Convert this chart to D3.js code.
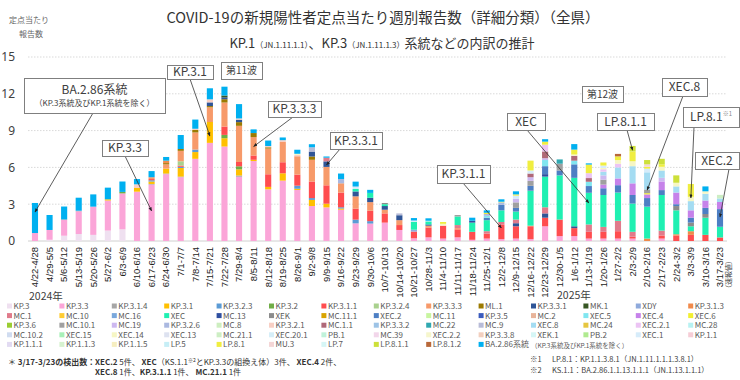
<!DOCTYPE html>
<html><head><meta charset="utf-8">
<script src="https://cdn.jsdelivr.net/npm/d3@7"></script>
<style>
body{margin:0;background:#fff;}
svg{display:block;font-family:"Noto Sans CJK JP","Noto Sans",sans-serif;}
</style>
</head><body>
<svg id="c" width="740" height="380"></svg>
<script>
const weeks = ["4/22-4/28","4/29-5/5","5/6-5/12","5/13-5/19","5/20-5/26","5/27-6/2","6/3-6/9","6/10-6/16","6/17-6/23","6/24-6/30","7/1-7/7","7/8-7/14",
"7/15-7/21","7/22-7/28","7/29-8/4","8/5-8/11","8/12-8/18","8/19-8/25","8/26-9/1","9/2-9/8","9/9-9/15","9/16-9/22","9/23-9/29","9/30-10/6",
"10/7-10/13","10/14-10/20","10/21-10/27","10/28-11/3","11/4-11/10","11/11-11/17","11/18-11/24","11/25-12/1","12/2-12/8","12/9-12/15","12/16-12/22","12/23-12/29",
"12/30-1/5","1/6-1/12","1/13-1/19","1/20-1/26","1/27-2/2","2/3-2/9","2/10-2/16","2/17-2/23","2/24-3/2","3/3-3/9","3/10-3/16","3/17-3/23"];
const yTicks = [0,3,6,9,12,15];
const seriesNames = ["KP.3","KP.3.3","KP.3.1.4","KP.3.1","KP.3.2.3","KP.3.2","KP.3.1.1","KP.3.2.4","KP.3.3.3","ML.1","KP.3.3.1","MK.1","XDY","KP.3.1.3",
"MC.1","MC.10","MC.16","XEC","MC.13","XEK","MC.11.1","XEC.2","MC.11","KP.3.5","MC.2","XEC.5","XEC.4","XEC.6",
"KP.3.6","MC.10.1","MC.19","KP.3.2.6","MC.8","KP.3.2.1","MC.1.1","KP.3.3.2","MC.22","MC.9","XEC.8","MC.24","XEC.2.1","MC.28",
"MC.10.2","XEC.15","XEC.14","XEC.13","MC.21.1","XEC.20.1","PB.1","MC.39","XEC.2.2","KP.3.3.8","XEK.1","PB.2","XEC.1","KP.1.1",
"KP.1.1.1","KP.1.1.3","KP.1.1.5","LP.5","LP.8.1","MU.3","LP.7","LP.8.1.1","LP.8.1.2","BA.2.86系統"];

const KP_3 = [0,0.1,0.43,0.57,0.5,0.85,0.95,0,0,0,0,0, 0,0,0,0,0,0,0,0,0,0,0,0, 0,0,0,0,0,0,0,0,0,0,0,0, 0,0,0,0,0,0,0,0,0,0,0,0];
const KP_3_3 = [0.65,0.8,1.28,1.85,2.3,2.45,2.93,4.02,4.6,5.45,5.2,6.7, 8.0,7.7,5.24,6.52,4.21,4.92,4.16,2.85,2.74,2.55,1.44,1.42, 1.5,0.9,0.22,0.3,0.2,0.3,0.1,0.2,0.15,0.2,0.15,1.2, 0.4,0.4,0.2,0.2,0.2,0.2,0,0.2,0,0,0,0];
const KP_3_1_4 = [0,0,0.05,0.05,0,0,0,0,0.05,0.05,0.05,0, 0,0,0.1,0,0,0,0,0,0,0,0,0, 0,0,0,0,0,0,0,0,0,0,0,0, 0,0,0,0,0,0,0,0,0,0,0,0];
const KP_3_1 = [0,0,0,0,0,0.1,0,0.3,0.2,0.4,0.7,0.55, 1.7,0.68,0.5,0.1,0.2,0.6,0.1,0.5,0.3,0.1,0,0, 0,0,0,0,0,0,0,0,0,0,0,0, 0,0,0,0,0,0,0,0,0,0,0,0];
const KP_3_2_3 = [0,0,0,0,0,0,0,0,0.1,0,0.1,0.2, 0,0,0,0,0,0,0.25,0.15,0,0.1,0.3,0.2, 0,0,0,0,0,0,0,0,0,0,0,0, 0,0,0,0,0,0,0,0,0,0,0,0];
const KP_3_2 = [0,0,0,0,0,0,0.12,0,0,0,0,0, 0,0.27,0.25,0,0,0,0,0,0,0,0,0, 0,0,0,0,0,0,0,0,0,0,0,0, 0,0,0,0,0,0,0,0,0,0,0,0];
const KP_3_1_1 = [0,0,0,0,0,0,0,0,0.1,0,0.1,0, 0,0.68,0.35,0.35,1.03,0.9,0.9,1.35,1.5,1.2,0.9,0.85, 0.75,0.4,0.55,0.8,1.05,0.65,0.65,0.4,1.2,1.0,1.05,0.7, 1.35,0.65,0.55,0.55,0.6,0.15,0,0.25,0.45,0.5,0.5,0.29];
const KP_3_2_4 = [0,0,0,0,0,0,0,0,0,0,0.35,0, 0,0,0,0,0,0,0,0,0,0,0,0, 0,0,0,0,0,0,0,0,0,0,0,0, 0,0,0,0,0,0,0,0,0,0,0,0];
const KP_3_3_3 = [0,0,0,0,0,0,0,0,0.15,0.35,0.85,1.4, 1.2,1.96,2.95,1.5,2.1,1.65,1.5,1.77,1.5,0.7,1.0,0.7, 0.3,0.4,0,0.15,0,0.1,0,0,0,0,0,0, 0,0,0,0,0,0,0,0,0,0,0,0];
const ML_1 = [0,0,0,0,0,0,0,0,0,0.1,0.15,0.2, 0.1,0.27,0.3,0.33,0.1,0,0,0.27,0,0,0,0, 0,0,0,0,0,0,0,0,0,0,0,0, 0,0,0,0,0,0,0,0,0,0,0,0];
const KP_3_3_1 = [0,0,0,0,0,0,0,0,0,0,0,0, 0.3,0.15,0.2,0,0,0,0,0.4,0.45,0,0.4,0.35, 0.3,0.4,0,0.1,0,0,0,0,0,0.25,0,0.35, 0,0.15,0,0,0,0,0,0,0,0,0,0];
const MK_1 = [0,0,0,0,0,0,0,0,0,0,0,0, 0,0.15,0,0,0,0,0,0,0,0,0,0, 0,0,0,0,0,0,0,0,0,0,0,0, 0,0,0,0,0,0,0,0,0,0,0,0];
const XDY = [0,0,0,0,0,0,0,0,0,0,0,0, 0,0,0,0,0,0,0,0,0,0,0,0, 0,0,0.15,0,0,0,0,0,0,0,0,0, 0,0,0,0,0,0,0,0,0,0,0,0];
const KP_3_1_3 = [0,0,0,0,0,0,0,0,0,0.2,0,0, 0,0,0,0,0,0,0,0,0,0.05,0,0, 0,0,0,0,0,0,0,0,0,0,0.05,0, 0,0,0,0,0,0,0.2,0,0.1,0.3,0,0];
const MC_1 = [0,0,0,0,0,0,0,0,0,0,0,0, 0,0,0,0,0,0,0,0,0.3,0,0,0, 0,0,0,0,0,0.25,0,0.2,0.2,0.3,0,0.5, 0,0,0.6,0.4,0.85,0.4,0,0.4,0,0,0,0];
const XEC = [0,0,0,0,0,0,0,0,0,0,0,0, 0,0,0,0,0,0,0,0,0,0,0.2,0.4, 0.15,0,0.65,0.25,0,0.7,0.75,0.9,0.95,0.65,2.85,2.5, 3.6,3.95,2.58,2.6,2.3,2.3,2.6,2.9,1.95,0.4,1.4,0.87];
const MC_13 = [0,0,0,0,0,0,0,0,0,0,0,0, 0,0,0,0,0,0,0,0,0,0,0,0, 0,0,0,0,0,0,0.15,0,0,0,0,0.2, 0,0,0,0,0,0,0,0,0,0,0,0];
const XEK = [0,0,0,0,0,0,0,0,0,0,0,0, 0,0,0,0,0,0,0,0,0,0,0,0, 0.1,0,0,0,0,0,0,0,0,0,0,0, 0,0,0,0,0,0,0,0,0.35,0.3,0.3,0];
const XEC_2 = [0,0,0,0,0,0,0,0,0,0,0,0, 0,0,0,0,0,0,0,0,0,0,0,0, 0,0,0,0,0,0,0,0.2,0.45,0.3,0.4,0.65, 0.4,1.1,0.55,0.55,0.6,0.7,0.7,0.4,0.15,0.4,0.5,1.44];
const XEC_5 = [0,0,0,0,0,0,0,0,0,0,0,0, 0,0,0,0,0,0,0,0,0,0,0,0, 0,0,0,0,0,0,0,0.15,0,0,0,0.5, 0,0.3,0.35,0,0,0,0,0,0,0,0,0];
const XEC_4 = [0,0,0,0,0,0,0,0,0,0,0,0, 0,0,0,0,0,0,0,0,0,0,0,0, 0,0,0,0,0,0,0,0,0,0,0,0, 0,0,0,0.3,0.55,0.95,0.3,0.7,0.95,0.6,0.6,0.58];
const XEC_6 = [0,0,0,0,0,0,0,0,0,0,0,0, 0,0,0,0,0,0,0,0,0,0,0,0, 0,0,0,0,0,0,0,0,0,0,0,0, 0,0,0,0,0,0,0.1,0,0,0,0,0];
const MC_10_1 = [0,0,0,0,0,0,0,0,0,0,0,0, 0,0,0,0,0,0,0,0,0,0,0,0, 0,0,0,0,0,0.12,0,0,0,0.45,0.4,0, 0.55,0,0,0.4,0,0,0.3,0,0,0,0,0];
const MC_19 = [0,0,0,0,0,0,0,0,0,0,0,0, 0,0,0,0,0,0,0,0,0,0,0,0, 0,0,0,0,0,0,0,0,0,0.3,0.3,0.15, 0,0,0,0.35,0,0,0,0.3,0,0,0,0];
const KP_3_2_6 = [0,0,0,0,0,0,0,0,0,0,0,0, 0,0,0,0,0,0,0,0,0,0.35,0,0, 0,0,0,0,0,0,0,0.15,0.2,0,0,0, 0,0,0,0,0,0,0,0,0,0,0,0];
const KP_3_2_1 = [0,0,0,0,0,0,0,0.3,0,0,0,0.1, 0.25,0,0.1,0,0.1,0.15,0.1,0,0,0,0,0, 0,0,0,0,0,0,0,0,0,0,0,0, 0,0,0,0,0,0,0,0,0,0,0,0];
const MC_1_1 = [0,0,0,0,0,0,0,0,0,0,0,0, 0,0,0,0,0,0,0,0,0,0,0,0, 0,0,0,0,0,0,0,0,0,0,0.3,0.55, 0,0.4,0.3,0,0,0,0,0,0,0,0,0];
const MC_22 = [0,0,0,0,0,0,0,0,0,0,0,0, 0,0,0,0,0,0,0,0,0,0,0,0, 0,0,0,0,0,0,0,0,0,0,0,0, 0.35,0,0,0,0,0,0,0,0,0,0,0];
const MC_9 = [0,0,0,0,0,0,0,0,0,0,0,0, 0,0,0,0,0,0,0,0.35,0,0,0,0, 0,0.15,0,0,0,0,0,0,0,0,0,0, 0,0,0,0,0,0,0,0,0,0,0,0];
const XEC_8 = [0,0,0,0,0,0,0,0,0,0,0,0, 0,0,0,0,0,0,0,0,0,0,0,0, 0,0,0,0,0,0,0,0,0,0,0,0, 0,0,0,0.3,0.9,1.4,1.4,0.6,0.5,0.75,0.55,0.29];
const XEC_2_1 = [0,0,0,0,0,0,0,0,0,0,0,0, 0,0,0,0,0,0,0,0,0,0,0,0, 0,0,0,0,0,0,0,0,0,0,0,0.55, 0,0,0.4,0.2,0.3,0,0,0,0,0,0,0];
const XEC_14 = [0,0,0,0,0,0,0,0,0,0,0,0, 0,0,0,0,0,0,0.1,0,0,0,0,0, 0,0,0,0,0.15,0,0,0,0,0,0,0, 0,0.1,0,0.1,0.3,0.4,0,0.3,0.3,0.35,0.2,0];
const MC_21_1 = [0,0,0,0,0,0,0,0,0,0,0,0, 0,0,0,0,0,0,0,0,0,0,0,0, 0,0,0,0,0,0,0,0,0,0,0,0, 0,0,0,0,0,0,0,0,0,0,0,0.29];
const XEC_1 = [0,0,0,0,0,0,0,0,0,0,0,0, 0,0,0,0,0,0,0,0,0,0,0.2,0, 0,0,0.1,0.05,0,0,0,0,0,0.25,0.25,0, 0,0,0,0.2,0,0,0.3,0,0,0,0,0];
const LP_8_1 = [0,0,0,0,0,0,0,0,0,0,0,0, 0,0,0,0,0,0,0,0,0,0,0,0, 0,0,0,0,0.15,0,0,0.1,0.05,0.1,0.8,0.25, 0,0.4,0.7,0.25,0.3,0.8,0.15,0.2,0,1.05,0,0];
const MU_3 = [0,0,0,0,0,0,0,0,0,0,0,0, 0,0,0,0,0,0,0,0,0,0,0,0, 0,0,0,0,0,0,0,0,0,0,0,0, 0,0,0,0,0,0,0.2,0,0,0,0,0];
const LP_8_1_1 = [0,0,0,0,0,0,0,0,0,0,0,0, 0,0,0,0,0,0,0,0,0,0,0,0, 0,0,0,0,0,0,0,0,0,0,0,0, 0,0,0,0,0,0.45,0.35,0.45,0.6,0,0,0];
const LP_8_1_2 = [0,0,0,0,0,0,0,0,0,0,0,0, 0,0,0,0,0,0,0,0,0,0,0,0, 0,0,0,0,0,0,0,0,0,0,0,0, 0,0,0,0,0.2,0,0,0,0,0,0,0];
const BA_2_86 = [2.45,1.22,1.05,1.06,1.0,0.95,0.85,0.43,0.5,0.3,1.14,0.75, 0.9,0.72,1.17,0.3,0.45,0.22,0.33,0.25,0.1,0.45,0.4,0.25, 0,0,0.2,0.2,0,0,0.25,0.2,0.2,0.25,0,0.2, 0,0.45,0.1,0,0,0,0,0,0,0,0.4,0];

// Lineages that were read off the picture; all other legend entries have no visible share.
const readSeries = {"KP.3":KP_3,"KP.3.3":KP_3_3,"KP.3.1.4":KP_3_1_4,"KP.3.1":KP_3_1,"KP.3.2.3":KP_3_2_3,"KP.3.2":KP_3_2,
"KP.3.1.1":KP_3_1_1,"KP.3.2.4":KP_3_2_4,"KP.3.3.3":KP_3_3_3,"ML.1":ML_1,"KP.3.3.1":KP_3_3_1,"MK.1":MK_1,"XDY":XDY,
"KP.3.1.3":KP_3_1_3,"MC.1":MC_1,"XEC":XEC,"MC.13":MC_13,"XEK":XEK,"XEC.2":XEC_2,"XEC.5":XEC_5,"XEC.4":XEC_4,"XEC.6":XEC_6,
"MC.10.1":MC_10_1,"MC.19":MC_19,"KP.3.2.6":KP_3_2_6,"KP.3.2.1":KP_3_2_1,"MC.1.1":MC_1_1,"MC.22":MC_22,"MC.9":MC_9,
"XEC.8":XEC_8,"XEC.2.1":XEC_2_1,"XEC.14":XEC_14,"MC.21.1":MC_21_1,"XEC.1":XEC_1,"LP.8.1":LP_8_1,"MU.3":MU_3,
"LP.8.1.1":LP_8_1_1,"LP.8.1.2":LP_8_1_2,"BA.2.86系統":BA_2_86};

const colors = ["#efe0f0","#fba5d8","#a6a6a6","#ffc000","#5b9bd5","#70ad47","#ff4d4f","#a9d18e","#f79a6a","#9c7a00","#2f5597","#375623","#8faadc","#f08a4b",
"#e07b8b","#ffcc33","#7aa8dc","#1ff0b2","#2f4fa0","#8c8c8c","#d9a400","#4d7fc4","#c8f5a0","#3a5bbd","#e8b49a","#80e6f0","#c682ea","#f2ef30",
"#9acd32","#a0a0a0","#cdb8f0","#aab8e0","#cdeec0","#f8cfc4","#b06878","#9dc3e6","#30a8b0","#b8bcd8","#a4dcf2","#e6c640","#ecc4f4","#b8f2f2",
"#d0dcf0","#a8f0b8","#f6f6c4","#dde2f0","#cdeec4","#d6eef8","#c0f2da","#f2d6ea","#f6f6cc","#f2cfbf","#d6f6f6","#b0ea90","#d6ecfa","#f6cdd6",
"#e2dbf2","#d6f2cf","#f6eec0","#c6eef6","#f0ee40","#f4d6d6","#d6f6f6","#cde03a","#b8683a","#00b0f0"];

const svg = d3.select("#c");
const x = d3.scaleBand().domain(weeks).range([27.7, 727.3]).paddingInner(0.58).paddingOuter(0.29);
const y = d3.scaleLinear().domain([0, 15]).range([241, 57]);
const txt = "#404040";

// grid
svg.append("g").selectAll("line").data(yTicks).join("line")
  .attr("x1", 28).attr("x2", 727).attr("y1", d => y(d)).attr("y2", d => y(d))
  .attr("stroke", d => d === 0 ? "#d0d0d0" : "#d9d9d9")
  .attr("stroke-dasharray", d => d === 0 ? null : "1.5,1.5");

// y axis labels
const ya = svg.append("g").attr("transform", "translate(18,0)")
  .call(d3.axisLeft(y).tickValues(yTicks).tickSize(0).tickPadding(3));
ya.select(".domain").remove();
ya.selectAll("text").attr("font-size", 12).attr("fill", txt).attr("font-family", "Noto Sans, sans-serif");

// stacked bars
const table = weeks.map((w, i) => {
  const row = {week: w};
  seriesNames.forEach(n => { row[n] = readSeries[n] ? readSeries[n][i] : 0; });
  return row;
});
const stacked = d3.stack().keys(seriesNames)(table);
svg.append("g").selectAll("g").data(stacked).join("g")
  .attr("fill", (d, i) => colors[i])
  .selectAll("rect").data(d => d.filter(p => p[1] - p[0] > 0)).join("rect")
  .attr("x", d => x(d.data.week)).attr("width", x.bandwidth())
  .attr("y", d => y(d[1])).attr("height", d => y(d[0]) - y(d[1]));

// x axis
const xa = svg.append("g").attr("transform", "translate(0,241)")
  .call(d3.axisBottom(x).tickSize(0).tickPadding(0));
xa.select(".domain").remove();
xa.selectAll("text").attr("font-size", 9.5).attr("fill", "#222")
  .attr("text-anchor", "end").attr("transform", "translate(0,6) rotate(-90)")
  .attr("x", 0).attr("y", 0).attr("dy", "0.35em");

svg.append("text").attr("x", 29).attr("y", 300).attr("font-size", 10.5).attr("fill", txt).text("2024年");
svg.append("text").attr("x", 557).attr("y", 299).attr("font-size", 10.5).attr("fill", txt).text("2025年");
svg.append("text").attr("transform", "translate(731,292) rotate(-90)").attr("font-size", 7).attr("fill", txt).text("（速報値）");

// titles
svg.append("text").attr("x", 383).attr("y", 23).attr("text-anchor", "middle").attr("font-size", 14.5).attr("fill", "#333")
  .text("COVID-19の新規陽性者定点当たり週別報告数（詳細分類）（全県）");
const st = svg.append("text").attr("x", 382).attr("y", 48).attr("text-anchor", "middle").attr("fill", "#333").attr("font-size", 13);
st.append("tspan").text("KP.1");
st.append("tspan").attr("font-size", 8).text("（JN.1.11.1.1）");
st.append("tspan").text("、KP.3");
st.append("tspan").attr("font-size", 8).text("（JN.1.11.1.3）");
st.append("tspan").text("系統などの内訳の推計");
svg.append("text").attr("x", 9).attr("y", 23).attr("font-size", 8).attr("fill", "#666").text("定点当たり");
svg.append("text").attr("x", 19).attr("y", 37).attr("font-size", 8).attr("fill", "#666").text("報告数");

// annotations: box + arrow to a bar
svg.append("defs").append("marker").attr("id", "ah").attr("viewBox", "0 0 10 10").attr("refX", 9).attr("refY", 5)
  .attr("markerWidth", 5).attr("markerHeight", 5).attr("orient", "auto")
  .append("path").attr("d", "M0,1L10,5L0,9Z").attr("fill", "#222");
const notes = [
  {t:"BA.2.86系統", sub:"（KP.3系統及びKP.1系統を除く）", b:[24,78,165,113], s:[93,113], w:0, v:2.36, fs:12},
  {t:"KP.3.3", b:[102,140,148,156], s:[125,156], w:8, v:2.45, fs:12},
  {t:"KP.3.1", b:[167,65,213,79], s:[190,79], w:12, v:8.56, fs:12},
  {t:"第11波", b:[221,62,262,79], fs:10},
  {t:"KP.3.3.3", b:[268,101,321,117], s:[293,117], w:15, v:7.7, fs:12},
  {t:"KP.3.3.1", b:[330,132,382,149], s:[340,149], w:20, v:6.2, fs:12},
  {t:"KP.3.1.1", b:[437,165,490,183], s:[463,183], w:32, v:1.06, fs:12},
  {t:"XEC", b:[507,113,545,130], s:[527,130], w:38, v:3.1, fs:12},
  {t:"第12波", b:[582,86,623,102], fs:10},
  {t:"LP.8.1.1", b:[597,113,654,130], s:[627,130], w:41, v:7.4, fs:12},
  {t:"XEC.8", b:[662,78,707,96], s:[683,96], w:42, v:4.15, fs:12},
  {t:"LP.8.1", sup:"※1", b:[683,107,739,127], s:[694,127], w:45, v:3.5, fs:12},
  {t:"XEC.2", b:[695,152,739,169], s:[729,169], w:47, v:1.95, fs:12}
];
const ng = svg.append("g");
notes.forEach(n => {
  if (n.s) {
    ng.append("line").attr("x1", n.s[0]).attr("y1", n.s[1])
      .attr("x2", x(weeks[n.w]) + x.bandwidth() / 2).attr("y2", y(n.v))
      .attr("stroke", "#333").attr("stroke-width", 0.8).attr("marker-end", "url(#ah)");
  }
  const [x0, y0, x1, y1] = n.b;
  ng.append("rect").attr("x", x0 + 0.5).attr("y", y0 + 0.5).attr("width", x1 - x0).attr("height", y1 - y0)
    .attr("fill", "#fff").attr("stroke", "#7f7f7f").attr("stroke-width", 1);
  const cx = (x0 + x1) / 2;
  if (n.sub) {
    ng.append("text").attr("x", cx).attr("y", y0 + 16).attr("text-anchor", "middle").attr("font-size", n.fs).attr("fill", txt).text(n.t);
    ng.append("text").attr("x", cx).attr("y", y0 + 28).attr("text-anchor", "middle").attr("font-size", 8).attr("fill", txt).text(n.sub);
  } else {
    const t = ng.append("text").attr("x", cx).attr("y", (y0 + y1) / 2 + n.fs * 0.36).attr("text-anchor", "middle")
      .attr("font-size", n.fs).attr("fill", txt).text(n.t);
    if (n.sup) t.append("tspan").attr("font-size", 6).attr("dy", -5).attr("fill", "#888").text(n.sup);
  }
});

// legend
const lg = svg.append("g");
seriesNames.forEach((n, i) => {
  const r = Math.floor(i / 14), c = i % 14;
  const lx = 7 + 52.4 * c, ly = 306 + 9.6 * r;
  lg.append("rect").attr("x", lx).attr("y", ly - 2.5).attr("width", 5).attr("height", 5).attr("fill", colors[i]);
  lg.append("text").attr("x", lx + 6.5).attr("y", ly + 3).attr("font-size", 8).attr("fill", "#595959").text(n);
});
lg.append("text").attr("x", 531).attr("y", 347.5).attr("font-size", 6.5).attr("fill", "#595959").text("（KP.3系統及びKP.1系統を除く）");

// footnotes
const f1 = svg.append("text").attr("x", 8).attr("y", 365).attr("font-size", 8).attr("fill", "#333");
f1.append("tspan").text("＊ ");
f1.append("tspan").attr("font-weight", "bold").text("3/17-3/23の検出数：");
f1.append("tspan").attr("x", 95).attr("font-weight", "bold").text("XEC.2");
f1.append("tspan").text(" 5件、 ");
f1.append("tspan").attr("font-weight", "bold").text("XEC");
f1.append("tspan").text("（KS.1.1");
f1.append("tspan").attr("font-size", 5).attr("dy", -3).text("※2");
f1.append("tspan").attr("dy", 3).text("とKP.3.3の組換え体）3件、 ");
f1.append("tspan").attr("font-weight", "bold").text("XEC.4");
f1.append("tspan").text(" 2件、");
const f2 = svg.append("text").attr("x", 95).attr("y", 375).attr("font-size", 8).attr("fill", "#333");
f2.append("tspan").attr("font-weight", "bold").text("XEC.8");
f2.append("tspan").text(" 1件、");
f2.append("tspan").attr("font-weight", "bold").text("KP.3.1.1");
f2.append("tspan").text(" 1件、 ");
f2.append("tspan").attr("font-weight", "bold").text("MC.21.1");
f2.append("tspan").text(" 1件");
svg.append("text").attr("x", 530).attr("y", 362).attr("font-size", 7.5).attr("fill", "#404040").text("※1");
svg.append("text").attr("x", 552).attr("y", 362).attr("font-size", 7.5).attr("fill", "#404040").text("LP.8.1：KP.1.1.3.8.1（JN.1.11.1.1.1.3.8.1）");
svg.append("text").attr("x", 530).attr("y", 372.5).attr("font-size", 7.5).attr("fill", "#404040").text("※2");
svg.append("text").attr("x", 552).attr("y", 372.5).attr("font-size", 7.5).attr("fill", "#404040").text("KS.1.1：BA.2.86.1.1.13.1.1.1（JN.1.13.1.1.1）");
</script>
</body></html>
